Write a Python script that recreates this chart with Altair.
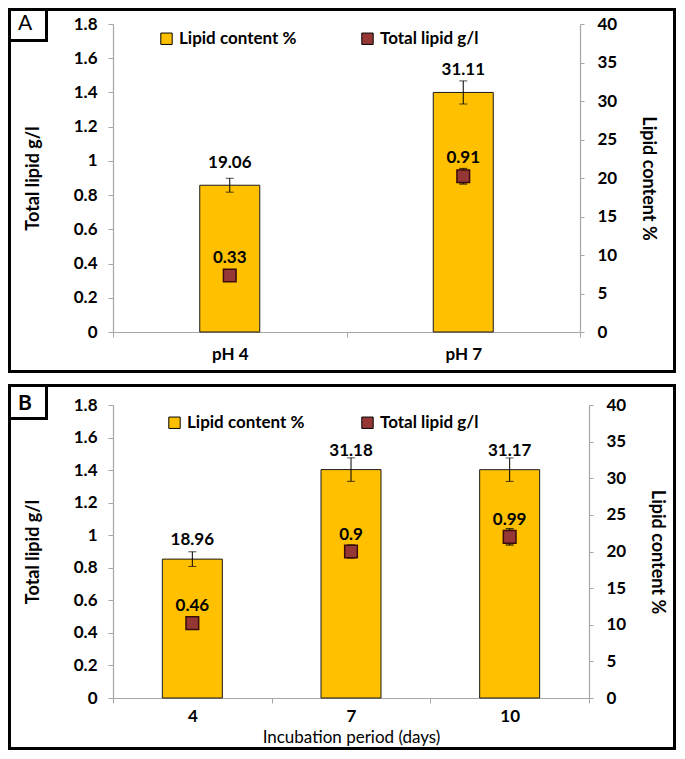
import altair as alt
import pandas as pd

FONT = "Lato"
ORANGE = "#FFC000"
BROWN = "#953735"
GRAY = "#A6A6A6"

# ---- data ----
series = ["Lipid content %", "Total lipid g/l"]

a_cats = ["pH 4", "pH 7"]
a_lipid_pct = [19.06, 31.11]
a_lipid_pct_err = [0.9, 1.5]
a_total = [0.33, 0.91]
a_total_err = [0.02, 0.045]

b_cats = ["4", "7", "10"]
b_lipid_pct = [18.96, 31.18, 31.17]
b_lipid_pct_err = [1.0, 1.6, 1.6]
b_total = [0.46, 0.90, 0.99]
b_total_err = [0.02, 0.04, 0.05]

left_ticks = [0, 0.2, 0.4, 0.6, 0.8, 1, 1.2, 1.4, 1.6, 1.8]
right_ticks = [0, 5, 10, 15, 20, 25, 30, 35, 40]


def panel(cats, pct, pct_err, tot, tot_err, w, h, leg_x, leg_y, col_pad,
          bar_dy, pt_dy, xtitle, x_label_pad, box, letter, letter_weight,
          letter_xy, letter_box):
    bar_df = pd.DataFrame({
        "cat": cats, "pct": pct,
        "lo": [v - e for v, e in zip(pct, pct_err)],
        "hi": [v + e for v, e in zip(pct, pct_err)],
        "series": series[0],
    })
    pt_df = pd.DataFrame({
        "cat": cats, "tot": tot,
        "lo": [v - e for v, e in zip(tot, tot_err)],
        "hi": [v + e for v, e in zip(tot, tot_err)],
        "series": series[1],
    })
    one = pd.DataFrame({"k": [0]})

    xscale = alt.Scale(paddingInner=0, paddingOuter=0)
    xaxis = alt.Axis(
        title=xtitle if xtitle else None, labelAngle=0, tickBand="extent",
        tickSize=5, labelPadding=x_label_pad, titleFontWeight="normal",
        titleFontSize=17, titlePadding=5,
    )
    X = alt.X("cat:N", sort=cats, scale=xscale, axis=xaxis)

    pscale = alt.Scale(domain=[0, 40], nice=False, zero=True)
    paxis = alt.Axis(orient="right", values=right_ticks, title="Lipid content %",
                     tickSize=4, labelPadding=13, titlePadding=22)
    tscale = alt.Scale(domain=[0, 1.8], nice=False, zero=True)
    taxis = alt.Axis(orient="left", values=left_ticks, format="~g",
                     title="Total lipid g/l", tickSize=5, labelPadding=11,
                     titlePadding=31)
    legend = alt.Legend(
        title=None, orient="none", legendX=leg_x, legendY=leg_y,
        direction="horizontal", symbolType="square", symbolSize=130,
        symbolStrokeColor="black", symbolStrokeWidth=1, symbolOpacity=1,
        labelFont=FONT, labelFontSize=17, labelFontWeight="bold",
        labelColor="black", labelOffset=4, columnPadding=col_pad,
        padding=0,
    )
    fscale = alt.Scale(domain=series, range=[ORANGE, BROWN])

    bars = alt.Chart(bar_df).mark_bar(size=60, stroke="#1a1a1a", strokeWidth=1).encode(
        x=X,
        y=alt.Y("pct:Q", scale=pscale, axis=paxis),
        fill=alt.Fill("series:N", scale=fscale, legend=legend),
    )
    bar_rule = alt.Chart(bar_df).mark_rule(color="black", strokeWidth=1).encode(
        x=X, y=alt.Y("lo:Q", scale=pscale, axis=paxis), y2="hi:Q")
    bar_caps = alt.Chart(bar_df).transform_fold(["lo", "hi"], as_=["k", "v"]).mark_tick(
        orient="horizontal", size=8, thickness=1, color="black").encode(
        x=X, y=alt.Y("v:Q", scale=pscale, axis=paxis))
    bar_text = alt.Chart(bar_df).mark_text(
        dy=bar_dy, font=FONT, fontSize=17, fontWeight="bold", color="black",
        baseline="middle").encode(
        x=X, y=alt.Y("pct:Q", scale=pscale, axis=paxis),
        text=alt.Text("pct:Q", format="~g"))
    right_layer = alt.layer(bars, bar_rule, bar_caps, bar_text)

    pt_rule = alt.Chart(pt_df).mark_rule(color="black", strokeWidth=1).encode(
        x=X, y=alt.Y("lo:Q", scale=tscale, axis=taxis), y2="hi:Q")
    pt_caps = alt.Chart(pt_df).transform_fold(["lo", "hi"], as_=["k", "v"]).mark_tick(
        orient="horizontal", size=8, thickness=1.5, color="black").encode(
        x=X, y=alt.Y("v:Q", scale=tscale, axis=taxis))
    points = alt.Chart(pt_df).mark_point(
        shape="square", filled=True, size=160, stroke="#3a0c0c", strokeWidth=1.5,
        opacity=1).encode(
        x=X, y=alt.Y("tot:Q", scale=tscale, axis=taxis),
        fill=alt.Fill("series:N", scale=fscale, legend=legend))
    pt_text = alt.Chart(pt_df).mark_text(
        dy=pt_dy, font=FONT, fontSize=17, fontWeight="bold", color="black",
        baseline="middle").encode(
        x=X, y=alt.Y("tot:Q", scale=tscale, axis=taxis),
        text=alt.Text("tot:Q", format="~g"))
    left_layer = alt.layer(pt_rule, pt_caps, points, pt_text)

    x0, x1, y0, y1 = box
    frame = alt.Chart(one).mark_rect(fill="white", fillOpacity=0, stroke="black",
                                     strokeWidth=3).encode(
        x=alt.value(x0), x2=alt.value(x1), y=alt.value(y0), y2=alt.value(y1))
    lx0, lx1, ly0, ly1 = letter_box
    lframe = alt.Chart(one).mark_rect(fill="white", stroke="black", strokeWidth=3).encode(
        x=alt.value(lx0), x2=alt.value(lx1), y=alt.value(ly0), y2=alt.value(ly1))
    ltext = alt.Chart(one).mark_text(
        text=letter, font=FONT, fontSize=21, fontWeight=letter_weight, color="black",
        align="center", baseline="middle").encode(
        x=alt.value(letter_xy[0]), y=alt.value(letter_xy[1]))

    return alt.layer(right_layer, left_layer, frame, lframe, ltext).resolve_scale(
        y="independent").properties(width=w, height=h)


panel_a = panel(
    a_cats, a_lipid_pct, a_lipid_pct_err, a_total, a_total_err,
    w=467, h=308, leg_x=45, leg_y=6, col_pad=62, bar_dy=-22, pt_dy=-18,
    xtitle=None, x_label_pad=9,
    box=(-103.5, 561.5, -14.5, 347.5), letter="A", letter_weight="normal",
    letter_xy=(-88, 0), letter_box=(-103.5, -66.5, -14.5, 16.5),
)
panel_b = panel(
    b_cats, b_lipid_pct, b_lipid_pct_err, b_total, b_total_err,
    w=476, h=293, leg_x=53, leg_y=9, col_pad=54, bar_dy=-19, pt_dy=-17,
    xtitle="Incubation period (days)", x_label_pad=5,
    box=(-103.5, 561.5, -19.5, 343.5), letter="B", letter_weight="bold",
    letter_xy=(-88, -1), letter_box=(-103.5, -66.5, -19.5, 13.5),
)

chart = alt.vconcat(panel_a, panel_b, spacing=11).resolve_scale(
    fill="independent").resolve_legend(fill="independent").properties(
    padding=0, background="white"
).configure_view(stroke=None).configure_axis(
    grid=False, labelFont=FONT, labelFontSize=17, labelFontWeight="bold",
    labelColor="black", titleFont=FONT, titleFontSize=18, titleFontWeight="bold",
    titleColor="black", domainColor=GRAY, tickColor=GRAY, domainWidth=1.2,
)

chart.save("out.html", embed_options={"renderer": "svg", "actions": False})
